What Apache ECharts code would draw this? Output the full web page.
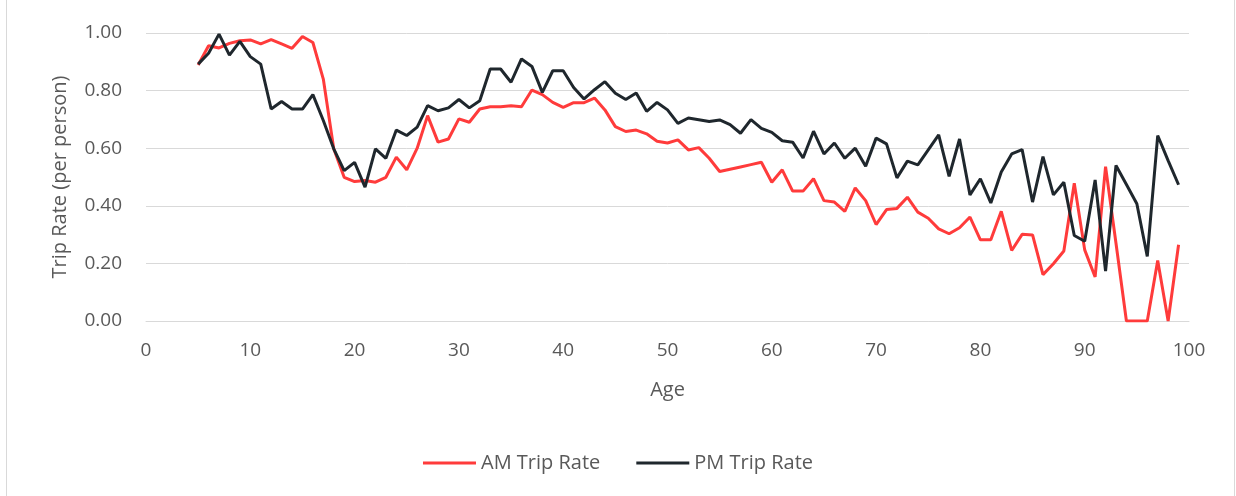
<!DOCTYPE html>
<html>
<head>
<meta charset="utf-8">
<script src="https://cdn.jsdelivr.net/npm/echarts@6/dist/echarts.min.js"></script>
<style>
html,body{margin:0;padding:0;background:#fff;}
#c{width:1236px;height:496px;}
</style>
</head>
<body>
<div id="c"></div>
<script>
var ages = [];
for (var a = 5; a <= 99; a++) ages.push(a);

var amRate = [
0.889,0.956,0.948,0.964,0.973,0.976,0.962,0.977,0.962,0.947,
0.988,0.967,0.840,0.598,0.499,0.484,0.488,0.482,0.499,0.569,
0.525,0.600,0.713,0.621,0.632,0.702,0.690,0.736,0.744,0.744,
0.747,0.744,0.802,0.786,0.759,0.742,0.758,0.758,0.774,0.733,
0.675,0.658,0.663,0.650,0.624,0.618,0.629,0.594,0.602,0.565,
0.519,0.527,0.535,0.543,0.551,0.482,0.525,0.451,0.451,0.494,
0.418,0.413,0.381,0.462,0.418,0.335,0.387,0.391,0.430,0.378,
0.357,0.320,0.303,0.324,0.361,0.282,0.282,0.381,0.245,0.301,
0.299,0.161,0.199,0.243,0.478,0.247,0.153,0.536,0.270,0.000,
0.000,0.000,0.210,0.000,0.265
];

var pmRate = [
0.892,0.930,0.996,0.923,0.971,0.918,0.892,0.736,0.762,0.736,
0.736,0.786,0.696,0.598,0.522,0.551,0.465,0.598,0.565,0.663,
0.644,0.673,0.748,0.730,0.740,0.769,0.740,0.765,0.875,0.875,
0.829,0.910,0.884,0.794,0.869,0.869,0.811,0.771,0.803,0.831,
0.791,0.769,0.792,0.728,0.759,0.733,0.686,0.705,0.699,0.693,
0.698,0.682,0.652,0.699,0.669,0.655,0.626,0.621,0.566,0.659,
0.580,0.618,0.565,0.600,0.537,0.635,0.615,0.497,0.555,0.542,
0.594,0.646,0.502,0.632,0.438,0.494,0.410,0.517,0.580,0.595,
0.413,0.571,0.438,0.482,0.297,0.277,0.490,0.173,0.540,0.474,
0.407,0.224,0.644,0.557,0.473
];

function pairs(vals){ return ages.map(function(a,i){ return [a, vals[i]]; }); }

var chart = echarts.init(document.getElementById('c'), null, {renderer:'canvas'});
var font = '"Open Sans", "Liberation Sans", sans-serif';
chart.setOption({
  animation: false,
  backgroundColor: '#fff',
  textStyle: {fontFamily: font},
  grid: {left: 146, right: 47, top: 33, bottom: 175, containLabel: false},
  xAxis: {
    type: 'value', min: 0, max: 100, interval: 10,
    name: 'Age', nameLocation: 'middle', nameGap: 59,
    nameTextStyle: {color: '#595959', fontSize: 20, fontFamily: font},
    axisLine: {show: true, lineStyle: {color: '#d9d9d9', width: 1}},
    axisTick: {show: false},
    splitLine: {show: false},
    axisLabel: {color: '#595959', fontSize: 19, margin: 20, fontFamily: font}
  },
  yAxis: {
    type: 'value', min: 0, max: 1, interval: 0.2,
    name: 'Trip Rate (per person)', nameLocation: 'middle', nameGap: 76,
    nameTextStyle: {color: '#595959', fontSize: 20, fontFamily: font},
    axisLine: {show: false},
    axisTick: {show: false},
    splitLine: {show: true, lineStyle: {color: '#d9d9d9', width: 1}},
    axisLabel: {color: '#595959', fontSize: 19, margin: 24, fontFamily: font,
      formatter: function(v){ return v.toFixed(2); }}
  },
  legend: {
    top: 448, left: 'center', itemGap: 36, itemWidth: 53, itemHeight: 3,
    icon: 'rect',
    textStyle: {color: '#595959', fontSize: 20, fontFamily: font},
    data: ['AM Trip Rate', 'PM Trip Rate']
  },
  series: [
    {name: 'AM Trip Rate', type: 'line', data: pairs(amRate), showSymbol: false, symbol: 'none',
     lineStyle: {color: '#FF3B3B', width: 3}, itemStyle: {color: '#FF3B3B'}},
    {name: 'PM Trip Rate', type: 'line', data: pairs(pmRate), showSymbol: false, symbol: 'none',
     lineStyle: {color: '#1F272D', width: 3}, itemStyle: {color: '#1F272D'}}
  ],
  graphic: [
    {type: 'rect', shape: {x: 6.5, y: -5, width: 1228, height: 510},
     style: {fill: 'none', stroke: '#d9d9d9', lineWidth: 1}, silent: true}
  ]
});
</script>
</body>
</html>
